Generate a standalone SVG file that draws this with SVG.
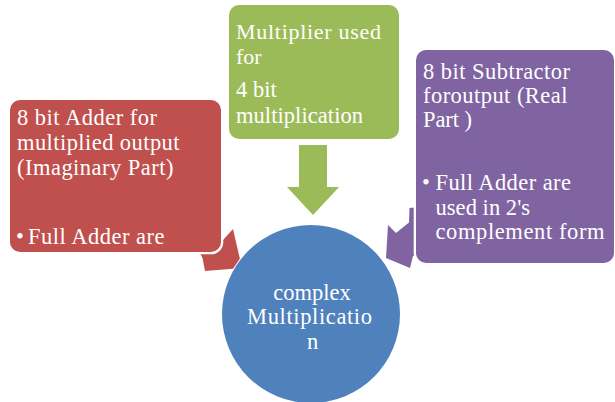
<svg xmlns="http://www.w3.org/2000/svg" width="615" height="402" viewBox="0 0 615 402">
<style>
.t{font-size:22.5px;fill:#ffffff}
.g{font-size:22px}
.box{stroke:#ffffff;stroke-width:4.6;paint-order:stroke}
</style>
<rect width="615" height="402" fill="#ffffff"/>
<g id="connectors">
<polygon id="arrow-red" fill="#C0504D" points="233,229 242,268 205,271 202.5,258 190,235 205,215 223,240"/>
<polygon id="arrow-green" fill="#9BBB59" points="299,145 327,145 327,187 339,187 313,215 287,187 299,187"/>
<polygon id="arrow-purple" fill="#8064A2" points="388,225 396,233 409,222.5 409.5,208 440,205 440,250 413,256 410,268 386,258"/>
</g>
<g font-family="Liberation Serif, Times New Roman, serif">
<g id="node-imaginary">
<rect class="box" x="10" y="100" width="211" height="152" rx="10" fill="#C0504D"/>
<text class="t" x="17" y="125" textLength="140">8 bit Adder for</text>
<text class="t" x="17" y="150" textLength="162.5">multiplied output</text>
<text class="t" x="17" y="174.5" textLength="156.5">(Imaginary Part)</text>
<text class="t" x="16" y="244">•</text>
<text class="t" x="28" y="244" textLength="136.5">Full Adder are</text>
</g>
<g id="node-multiplier">
<rect class="box" x="229" y="5" width="170" height="134" rx="10" fill="#9BBB59"/>
<text class="t g" x="236" y="39" textLength="145">Multiplier used</text>
<text class="t g" x="236" y="63.5">for</text>
<text class="t" x="236" y="97">4 bit</text>
<text class="t" x="236" y="123" textLength="127">multiplication</text>
</g>
<g id="node-real">
<rect class="box" x="416" y="50" width="198" height="213" rx="10" fill="#8064A2"/>
<text class="t" x="423" y="78.5" textLength="147">8 bit Subtractor</text>
<text class="t" x="423" y="102.5" textLength="144.5">foroutput (Real</text>
<text class="t" x="423" y="126.5" textLength="49">Part )</text>
<text class="t" x="422" y="190">•</text>
<text class="t" x="435.5" y="190" textLength="135.5">Full Adder are</text>
<text class="t" x="435.5" y="215" textLength="94.5">used in 2's</text>
<text class="t" x="435.5" y="238.5" textLength="169">complement form</text>
</g>
<g id="node-complex">
<circle cx="311" cy="314" r="89" fill="#4F81BD" stroke="#ffffff" stroke-width="2" paint-order="stroke"/>
<text class="t" x="312" y="299.5" text-anchor="middle">complex</text>
<text class="t" x="309.5" y="323.5" text-anchor="middle" textLength="125">Multiplicatio</text>
<text class="t" x="312.5" y="348.5" text-anchor="middle">n</text>
</g>
</g>
</svg>
